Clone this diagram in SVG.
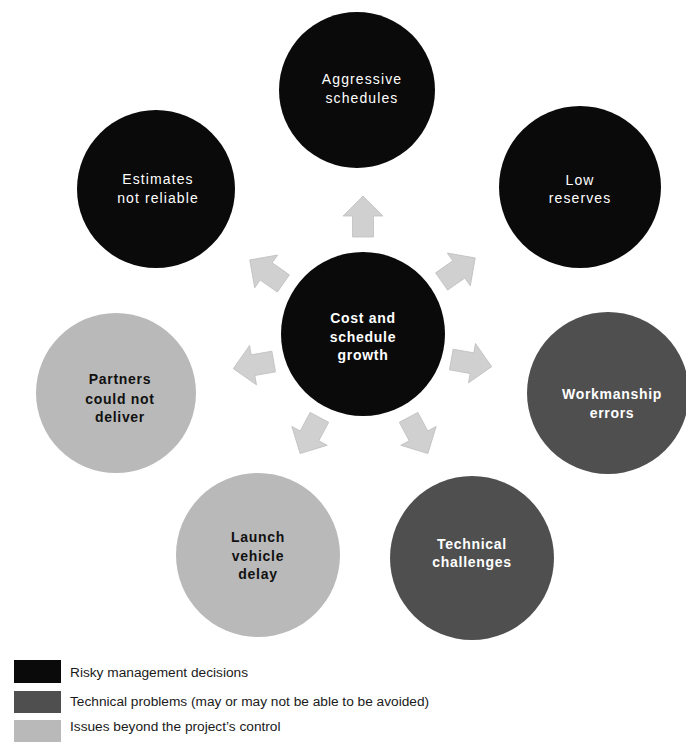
<svg xmlns="http://www.w3.org/2000/svg" width="686" height="746" viewBox="0 0 686 746">
<style>
.risk{fill:#0a0a0a}
.tech{fill:#4f4f4f}
.issue{fill:#b9b9b9}
.wt{font-family:"Liberation Sans",Arial,sans-serif;font-size:14px;fill:#ffffff;text-anchor:middle;letter-spacing:1.1px}
.wb{font-family:"Liberation Sans",Arial,sans-serif;font-size:14px;font-weight:bold;fill:#ffffff;text-anchor:middle;letter-spacing:0.7px}
.bb{font-family:"Liberation Sans",Arial,sans-serif;font-size:14px;font-weight:bold;fill:#111111;text-anchor:middle;letter-spacing:0.7px}
.leg{font-family:"Liberation Sans",Arial,sans-serif;font-size:13.7px;fill:#1a1a1a}
.arr{fill:#d0d0d0;stroke:#c0c0c0;stroke-width:0.8}
</style>
<defs>
<path id="blk" d="M0,-21 L20,-1 L10.5,-1 L10.5,20 L-10.5,20 L-10.5,-1 L-20,-1 Z"/>
</defs>
<rect width="686" height="746" fill="#ffffff"/>
<g id="connectors">
<use href="#blk" class="arr" transform="translate(363,217)"/>
<use href="#blk" class="arr" transform="translate(267,272) rotate(-55)"/>
<use href="#blk" class="arr" transform="translate(458,270) rotate(55)"/>
<use href="#blk" class="arr" transform="translate(254,365) rotate(-100)"/>
<use href="#blk" class="arr" transform="translate(471,363) rotate(100)"/>
<use href="#blk" class="arr" transform="translate(310,435) rotate(-152)"/>
<use href="#blk" class="arr" transform="translate(418,435) rotate(152)"/>
</g>
<g id="node-aggressive">
<circle class="risk" cx="357" cy="90" r="78"/>
<text class="wt" x="362" y="84">Aggressive</text>
<text class="wt" x="362" y="103">schedules</text>
</g>
<g id="node-estimates">
<circle class="risk" cx="156" cy="189" r="79"/>
<text class="wt" x="158" y="184">Estimates</text>
<text class="wt" x="158" y="203">not reliable</text>
</g>
<g id="node-reserves">
<circle class="risk" cx="580" cy="187" r="81"/>
<text class="wt" x="580" y="185">Low</text>
<text class="wt" x="580" y="203">reserves</text>
</g>
<g id="node-center">
<circle class="risk" cx="363" cy="334" r="82"/>
<text class="wb" x="363" y="323">Cost and</text>
<text class="wb" x="363" y="342">schedule</text>
<text class="wb" x="363" y="360">growth</text>
</g>
<g id="node-partners">
<circle class="issue" cx="116" cy="393" r="80"/>
<text class="bb" x="120" y="384">Partners</text>
<text class="bb" x="120" y="404">could not</text>
<text class="bb" x="120" y="422">deliver</text>
</g>
<g id="node-workmanship">
<circle class="tech" cx="608" cy="393" r="81"/>
<text class="wb" x="612" y="399">Workmanship</text>
<text class="wb" x="612" y="418">errors</text>
</g>
<g id="node-launch">
<circle class="issue" cx="258" cy="555" r="82"/>
<text class="bb" x="258" y="542">Launch</text>
<text class="bb" x="258" y="561">vehicle</text>
<text class="bb" x="258" y="579">delay</text>
</g>
<g id="node-technical">
<circle class="tech" cx="472" cy="558" r="82"/>
<text class="wb" x="472" y="549">Technical</text>
<text class="wb" x="472" y="567">challenges</text>
</g>
<g id="legend">
<rect class="risk" x="14" y="660" width="47" height="23"/>
<text class="leg" x="70" y="677">Risky management decisions</text>
<rect class="tech" x="14" y="691" width="47" height="22"/>
<text class="leg" x="70" y="706">Technical problems (may or may not be able to be avoided)</text>
<rect class="issue" x="14" y="720" width="47" height="22"/>
<text class="leg" x="70" y="731">Issues beyond the project’s control</text>
</g>
</svg>
